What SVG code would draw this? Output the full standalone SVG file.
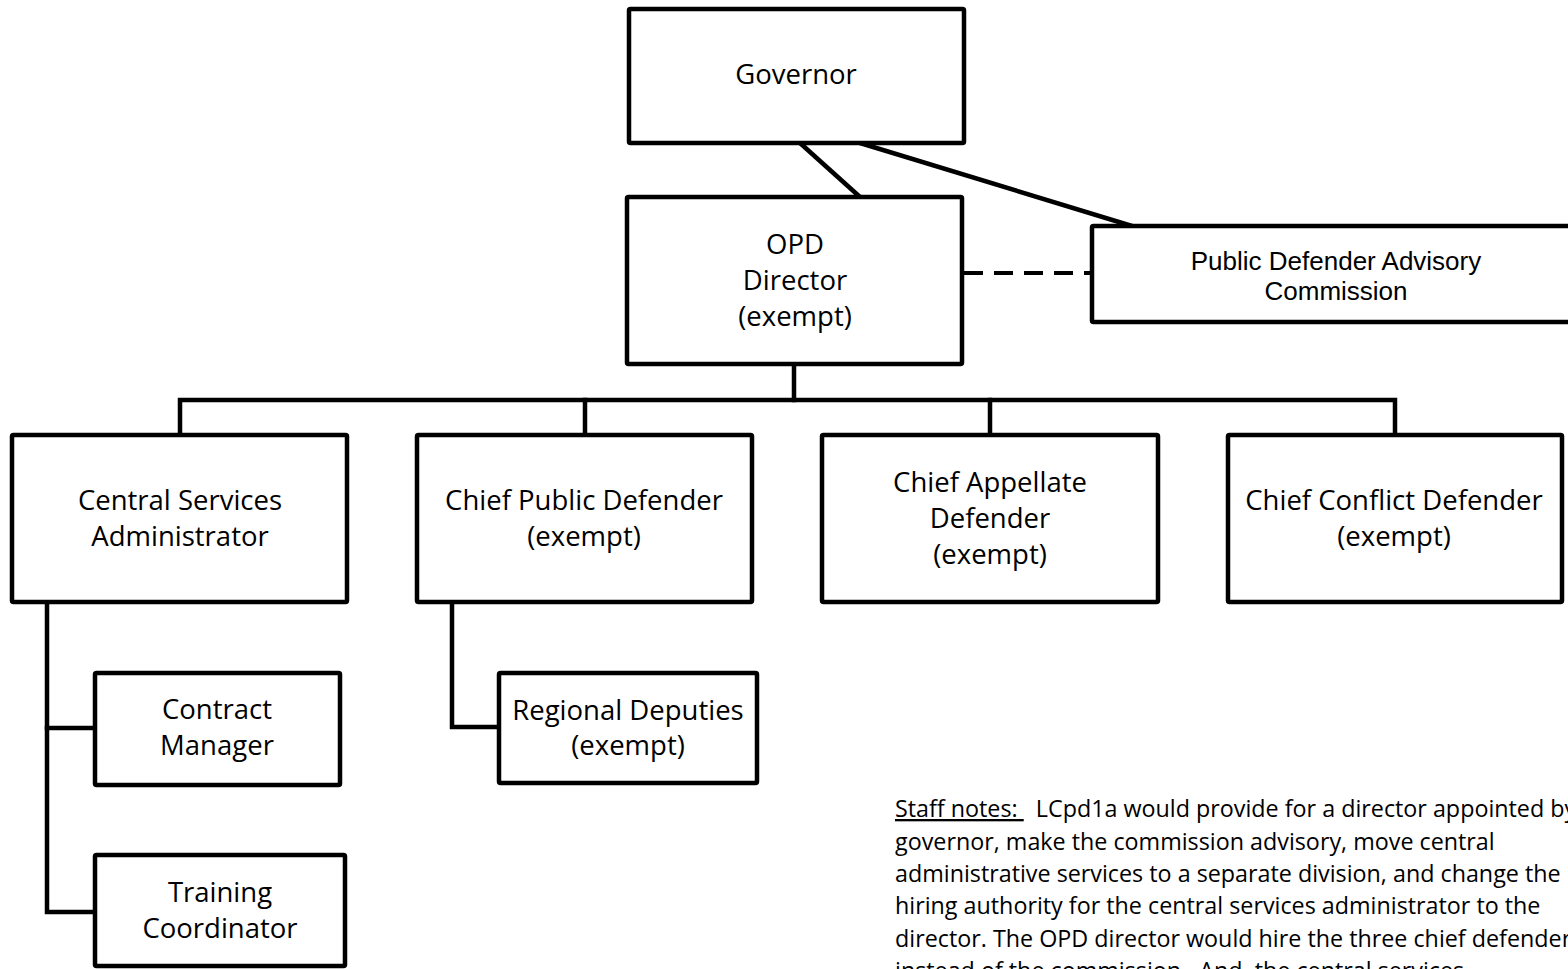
<svg xmlns="http://www.w3.org/2000/svg" width="1568" height="969" viewBox="0 0 1568 969">
<style>
.box{fill:#fff;stroke:#000;stroke-width:4.5}
.conn{fill:none;stroke:#000;stroke-width:4.5;stroke-linecap:square}
.dash{fill:none;stroke:#000;stroke-width:4;stroke-dasharray:19 11}
.t{font-family:"Open Sans","Noto Sans",sans-serif;font-size:27.5px;fill:#000;text-anchor:middle}
.a{font-family:"Liberation Sans",Arial,sans-serif;font-size:26px;fill:#000;text-anchor:middle}
.n{font-family:"Open Sans","Noto Sans",sans-serif;font-size:23.3px;fill:#000;white-space:pre}
</style>
<rect width="1568" height="969" fill="#fff"/>
<g id="connectors">
<line class="conn" x1="800" y1="143" x2="860" y2="197" style="stroke-linecap:butt"/>
<line class="conn" x1="860" y1="143" x2="1132" y2="226" style="stroke-linecap:butt"/>
<line class="dash" x1="964" y1="273" x2="1092" y2="273"/>
<polyline class="conn" points="794,364 794,400"/>
<polyline class="conn" points="180,435 180,400 1395,400 1395,435"/>
<line class="conn" x1="585" y1="400" x2="585" y2="435"/>
<line class="conn" x1="990" y1="400" x2="990" y2="435"/>
<polyline class="conn" points="47,602 47,912 95,912"/>
<line class="conn" x1="47" y1="728" x2="95" y2="728"/>
<polyline class="conn" points="452,602 452,727 499,727"/>
</g>
<g id="governor">
<rect class="box" x="629" y="9" width="335" height="134" rx="1.5"/>
<text class="t" x="796" y="84">Governor</text>
</g>
<g id="opd-director">
<rect class="box" x="627" y="197" width="335" height="167" rx="1.5"/>
<text class="t" x="795" y="254">OPD</text>
<text class="t" x="795" y="290">Director</text>
<text class="t" x="795" y="326">(exempt)</text>
</g>
<g id="advisory-commission">
<rect class="box" x="1092" y="226" width="500" height="96" rx="1.5"/>
<text class="a" x="1336" y="270">Public Defender Advisory</text>
<text class="a" x="1336" y="300">Commission</text>
</g>
<g id="central-services">
<rect class="box" x="12" y="435" width="335" height="167" rx="1.5"/>
<text class="t" x="180" y="510">Central Services</text>
<text class="t" x="180" y="546">Administrator</text>
</g>
<g id="chief-public-defender">
<rect class="box" x="417" y="435" width="335" height="167" rx="1.5"/>
<text class="t" x="584" y="510">Chief Public Defender</text>
<text class="t" x="584" y="546">(exempt)</text>
</g>
<g id="chief-appellate-defender">
<rect class="box" x="822" y="435" width="336" height="167" rx="1.5"/>
<text class="t" x="990" y="492">Chief Appellate</text>
<text class="t" x="990" y="528">Defender</text>
<text class="t" x="990" y="564">(exempt)</text>
</g>
<g id="chief-conflict-defender">
<rect class="box" x="1228" y="435" width="334" height="167" rx="1.5"/>
<text class="t" x="1394" y="510">Chief Conflict Defender</text>
<text class="t" x="1394" y="546">(exempt)</text>
</g>
<g id="contract-manager">
<rect class="box" x="95" y="673" width="245" height="112" rx="1.5"/>
<text class="t" x="217" y="719">Contract</text>
<text class="t" x="217" y="755">Manager</text>
</g>
<g id="training-coordinator">
<rect class="box" x="95" y="855" width="250" height="111" rx="1.5"/>
<text class="t" x="220" y="902">Training</text>
<text class="t" x="220" y="938">Coordinator</text>
</g>
<g id="regional-deputies">
<rect class="box" x="499" y="673" width="258" height="110" rx="1.5"/>
<text class="t" x="628" y="720">Regional Deputies</text>
<text class="t" x="628" y="755">(exempt)</text>
</g>
<g id="staff-notes">
<text class="n" x="895" y="817"><tspan text-decoration="underline">Staff notes: </tspan>  LCpd1a would provide for a director appointed by</text>
<text class="n" x="895" y="849.5">governor, make the commission advisory, move central</text>
<text class="n" x="895" y="882">administrative services to a separate division, and change the</text>
<text class="n" x="895" y="914">hiring authority for the central services administrator to the</text>
<text class="n" x="895" y="946.5">director. The OPD director would hire the three chief defenders</text>
<text class="n" x="895" y="979">instead of the commission.  And, the central services</text>
</g>
</svg>
